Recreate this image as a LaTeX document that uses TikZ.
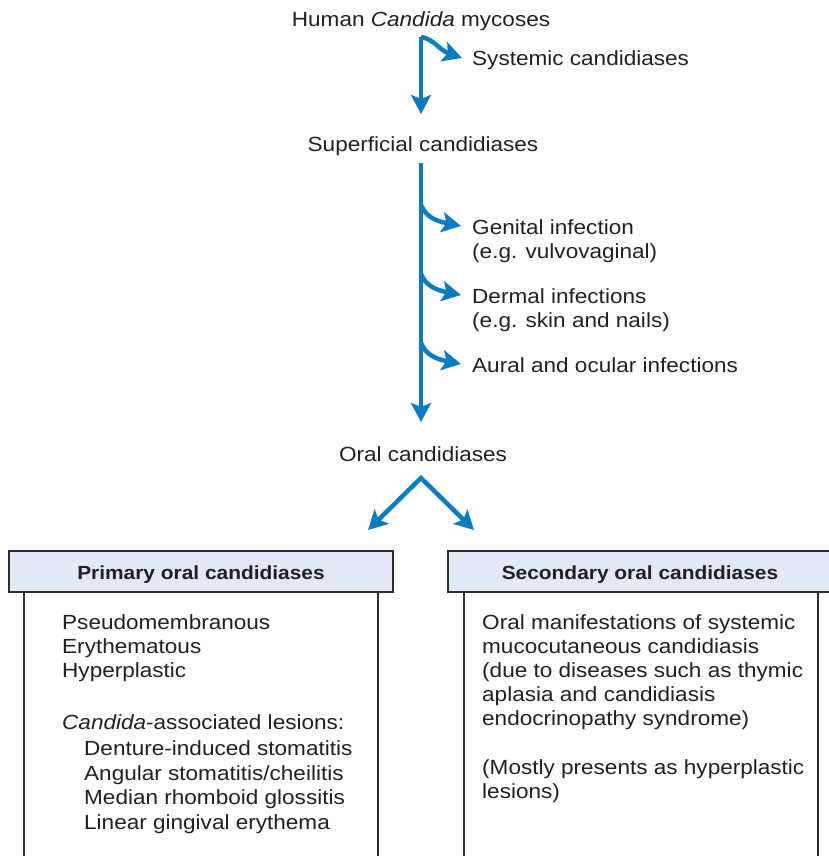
\documentclass[tikz,border=0pt]{standalone}
\usepackage{fontspec}
\setmainfont[FakeStretch=1.1]{Liberation Sans}
\usetikzlibrary{arrows.meta}
\definecolor{ablue}{RGB}{10,125,194}
\definecolor{tcol}{RGB}{35,31,32}
\definecolor{bcol}{RGB}{45,45,48}
\definecolor{hfill}{RGB}{226,233,244}
\begin{document}
\begin{tikzpicture}[x=1pt,y=-1pt,
  txt/.style={anchor=base west, inner sep=0pt, font=\fontsize{20.5}{24}\selectfont, text=tcol},
  ctxt/.style={anchor=base, inner sep=0pt, font=\fontsize{20.5}{24}\selectfont, text=tcol},
  flow/.style={draw=ablue, line width=4.5pt, -{Stealth[length=19pt,width=20pt,inset=4pt]}},
  vflow/.style={draw=ablue, line width=4.5pt, line join=miter, {Stealth[length=19pt,width=20pt,inset=4pt]}-{Stealth[length=19pt,width=20pt,inset=4pt]}},
  hdr/.style={draw=bcol, line width=2.4pt, fill=hfill, minimum width=384pt, minimum height=41pt,
    text height=15pt, text depth=0pt, inner sep=0pt, font=\fontsize{19}{22}\selectfont\bfseries, text=tcol},
  bodybox/.style={draw=bcol, line width=2pt}]
\useasboundingbox (0,0) rectangle (829,856);

% top part
\node[ctxt] (human) at (421,27) {Human \textit{Candida} mycoses};
\node[txt] (sys) at (472,66) {Systemic candidiases};
\node[ctxt] (sup) at (423,151) {Superficial candidiases};

\coordinate (m1s) at (421,37);
\coordinate (m1e) at (421,114);
\coordinate (systip) at (462,58);
\draw[flow] (m1s) -- (m1e);
\draw[flow] (m1s) .. controls (434,39) and (439,50) .. (systip);

% superficial branches
\node[txt] (gen) at (472,234) {Genital infection};
\node[txt] (gen2) at (472,258) {(e.g. vulvovaginal)};
\node[txt] (der) at (472,303) {Dermal infections};
\node[txt] (der2) at (472,327) {(e.g. skin and nails)};
\node[txt] (aur) at (472,372) {Aural and ocular infections};

\coordinate (m2s) at (421,163);
\coordinate (m2e) at (421,422);
\draw[flow] (m2s) -- (m2e);
\foreach \ys/\yt [count=\i] in {205/226, 274/295, 343/364}{
  \coordinate (b\i s) at (421,\ys);
  \coordinate (b\i t) at (461,\yt);
  \draw[flow] (b\i s) .. controls (426,\ys+12) and (436,\yt-5) .. (b\i t);
}

% oral
\node[ctxt] (oral) at (423,461) {Oral candidiases};
\coordinate (apex) at (421,478);
\coordinate (vl) at (368,530);
\coordinate (vr) at (474,530);
\draw[vflow] (vl) -- (apex) -- (vr);

% boxes
\draw[bodybox] (24,592) rectangle (378,880);
\draw[bodybox] (464,592) rectangle (818,880);
\node[hdr] (prim) at (201,571.5) {Primary oral candidiases};
\node[hdr] (sec) at (640,571.5) {Secondary oral candidiases};

% primary text
\node[txt] (p1) at (62,629) {Pseudomembranous};
\node[txt] (p2) at (62,653) {Erythematous};
\node[txt] (p3) at (62,677) {Hyperplastic};
\node[txt] (p4) at (62,729) {\textit{Candida}-associated lesions:};
\node[txt] (p5) at (84,755) {Denture-induced stomatitis};
\node[txt] (p6) at (84,780) {Angular stomatitis/cheilitis};
\node[txt] (p7) at (84,804) {Median rhomboid glossitis};
\node[txt] (p8) at (84,829) {Linear gingival erythema};

% secondary text
\node[txt] (s1) at (482,629) {Oral manifestations of systemic};
\node[txt] (s2) at (482,653) {mucocutaneous candidiasis};
\node[txt] (s3) at (482,677) {(due to diseases such as thymic};
\node[txt] (s4) at (482,701) {aplasia and candidiasis};
\node[txt] (s5) at (482,725) {endocrinopathy syndrome)};
\node[txt] (s6) at (482,774) {(Mostly presents as hyperplastic};
\node[txt] (s7) at (482,798) {lesions)};
\end{tikzpicture}
\end{document}
